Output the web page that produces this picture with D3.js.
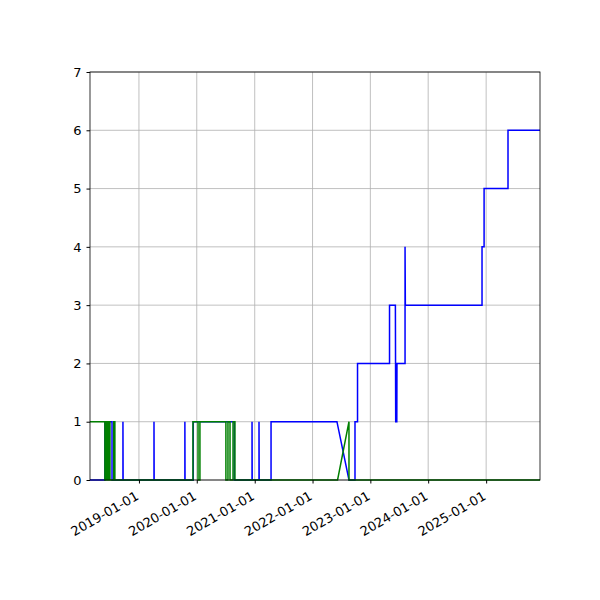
<!DOCTYPE html><html><head><meta charset="utf-8"><script src="https://cdn.jsdelivr.net/npm/d3@7"></script>
<style>body{margin:0;background:#fff}text{font-family:"DejaVu Sans",sans-serif}</style></head><body><svg id="c" width="600" height="600"></svg>
<script>
const xDomain=["2018-02-26","2025-12-07"];
const yTicks=[0,1,2,3,4,5,6,7];
const xTickLabels=["2019-01-01","2020-01-01","2021-01-01","2022-01-01","2023-01-01","2024-01-01","2025-01-01"];
const blueDates=["2018-02-26","2018-05-31","2018-05-31","2018-07-15","2018-07-15","2018-09-22","2018-09-22","2018-09-23","2019-04-06","2019-04-06","2019-04-07","2019-10-18","2019-10-18","2019-10-19","2019-12-10","2019-12-10","2020-08-25","2020-08-25","2020-12-15","2020-12-15","2020-12-16","2021-01-28","2021-01-28","2021-01-29","2021-04-14","2021-04-14","2022-06-04","2022-08-19","2022-09-26","2022-09-26","2022-10-12","2022-10-12","2023-05-02","2023-05-02","2023-06-08","2023-06-10","2023-06-17","2023-06-18","2023-08-08","2023-08-08","2023-08-10","2024-12-06","2024-12-06","2024-12-19","2024-12-19","2025-05-19","2025-05-19","2025-12-07"];
const blueValues=[0,0,1,1,0,0,1,0,0,1,0,0,1,0,0,1,1,0,0,1,0,0,1,0,0,1,1,0,0,1,1,2,2,3,3,1,1,2,2,4,3,3,4,4,5,5,6,6];
const greenDates=["2018-02-26","2018-05-31","2018-05-31","2018-06-04","2018-06-04","2018-06-08","2018-06-08","2018-06-13","2018-06-13","2018-06-18","2018-06-18","2018-06-24","2018-06-24","2018-07-02","2018-07-02","2018-07-26","2018-07-26","2018-08-02","2018-08-02","2019-12-08","2019-12-08","2020-01-09","2020-01-09","2020-01-21","2020-01-21","2020-07-03","2020-07-03","2020-07-16","2020-07-16","2020-07-29","2020-07-29","2020-08-17","2020-08-17","2020-08-29","2020-08-29","2022-06-08","2022-08-19","2022-08-19","2025-12-07"];
const greenValues=[1,1,0,0,1,1,0,0,1,1,0,0,1,1,0,0,1,1,0,0,1,1,0,0,1,1,0,0,1,1,0,0,1,1,0,0,1,0,0];
const P=d3.timeParse("%Y-%m-%d");
const svg=d3.select("#c");
const L=90,R=540,T=72,B=480;
const x=d3.scaleTime().domain(xDomain.map(P)).range([L,R]);
const y=d3.scaleLinear().domain([0,7]).range([B,T]);
const g=svg.append("g");
xTickLabels.forEach(t=>g.append("line").attr("x1",x(P(t))).attr("x2",x(P(t))).attr("y1",T).attr("y2",B).attr("stroke","#b0b0b0").attr("stroke-width",0.8));
yTicks.forEach(t=>g.append("line").attr("x1",L).attr("x2",R).attr("y1",y(t)).attr("y2",y(t)).attr("stroke","#b0b0b0").attr("stroke-width",0.8));
const line=d3.line().x(d=>x(d[0])).y(d=>y(d[1]));
const bl=blueDates.map((d,i)=>[P(d),blueValues[i]]);
const gr=greenDates.map((d,i)=>[P(d),greenValues[i]]);
svg.append("path").attr("d",line(bl)).attr("fill","none").attr("stroke","blue").attr("stroke-width",1.5);
svg.append("path").attr("d",line(gr)).attr("fill","none").attr("stroke","green").attr("stroke-width",1.5);
svg.append("rect").attr("x",L).attr("y",T).attr("width",R-L).attr("height",B-T).attr("fill","none").attr("stroke","#000").attr("stroke-width",0.8);
const xa=svg.append("g").attr("transform",`translate(0,${B})`).call(d3.axisBottom(x).tickValues(xTickLabels.map(P)).tickFormat(d3.timeFormat("%Y-%m-%d")).tickSize(3.5).tickSizeOuter(0));
xa.select(".domain").remove();
xa.selectAll("text").attr("font-size",13).attr("fill","#000").style("text-anchor","end").attr("dx","0").attr("dy","0").attr("transform","translate(-3,13) rotate(-30)");
const ya=svg.append("g").attr("transform",`translate(${L},0)`).call(d3.axisLeft(y).tickValues(yTicks).tickFormat(d3.format("d")).tickSize(3.5).tickPadding(5));
ya.select(".domain").remove();
ya.selectAll("text").attr("font-size",13).attr("fill","#000");
</script></body></html>
